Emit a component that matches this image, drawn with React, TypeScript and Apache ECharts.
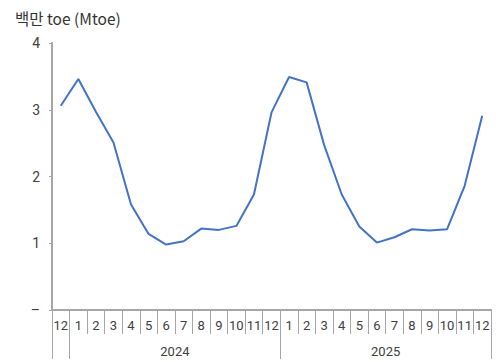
import React, { useEffect, useRef } from "react";
import * as echarts from "echarts";

const months = ["12", "1", "2", "3", "4", "5", "6", "7", "8", "9", "10", "11", "12", "1", "2", "3", "4", "5", "6", "7", "8", "9", "10", "11", "12"];
const values = [3.06, 3.46, 2.97, 2.51, 1.58, 1.14, 0.98, 1.03, 1.22, 1.2, 1.26, 1.73, 2.96, 3.49, 3.41, 2.47, 1.73, 1.25, 1.01, 1.09, 1.21, 1.19, 1.21, 1.86, 2.91];
const years = ["2024", "2025"];
const yearStartIndex = [1, 13];
const yearEndIndex = [13, 25];
const yTicks = [0, 1, 2, 3, 4];
const unitTitle = "백만 toe (Mtoe)";

const FONT = "Roboto, 'Noto Sans CJK KR', sans-serif";
const GRAY = "#a6a6a6";
const TEXT = "#404040";

export default function App() {
  const ref = useRef<HTMLDivElement>(null);
  useEffect(() => {
    if (!ref.current) return;
    const chart = echarts.init(ref.current, undefined, { renderer: "svg" });
    const boundaries = Array.from(new Set([0, ...yearStartIndex, ...yearEndIndex])).sort((a, b) => a - b);
    const yearCenters = yearStartIndex.map((s, i) => (s + yearEndIndex[i]) / 2);
    chart.setOption({
      animation: false,
      textStyle: { fontFamily: FONT },
      title: {
        text: unitTitle,
        left: 10,
        top: 5,
        textStyle: { fontSize: 15.5, fontWeight: "normal", color: "#333", fontFamily: "'Noto Sans CJK KR', Roboto, sans-serif" },
      },
      grid: { left: 52, right: 5, top: 43, bottom: 52, containLabel: false },
      xAxis: [
        {
          type: "category",
          data: months,
          boundaryGap: true,
          axisLine: { show: true, lineStyle: { color: GRAY, width: 2 } },
          axisTick: { show: true, interval: 0, length: 24, lineStyle: { color: GRAY, width: 1 } },
          axisLabel: { interval: 0, color: TEXT, fontSize: 13, margin: 9, fontFamily: FONT },
          splitLine: { show: false },
        },
        {
          type: "value",
          min: 0,
          max: months.length,
          position: "bottom",
          axisLine: { show: false },
          axisTick: { show: true, customValues: boundaries, length: 49, lineStyle: { color: GRAY, width: 1 } },
          axisLabel: {
            show: true,
            customValues: yearCenters,
            formatter: (v: number) => {
              const i = yearCenters.indexOf(v);
              return i >= 0 ? years[i] : "";
            },
            color: TEXT,
            fontSize: 13,
            margin: 35,
            fontFamily: FONT,
          },
          splitLine: { show: false },
        },
      ],
      yAxis: {
        type: "value",
        min: 0,
        max: 4,
        interval: 1,
        axisLine: { show: true, lineStyle: { color: GRAY, width: 2 } },
        axisTick: { show: true, length: 3, lineStyle: { color: GRAY } },
        axisLabel: {
          color: TEXT,
          fontSize: 14,
          margin: 12,
          fontFamily: FONT,
          formatter: (v: number) => (v === yTicks[0] ? "–" : String(v)),
        },
        splitLine: { show: false },
      },
      series: [
        {
          type: "line",
          data: values,
          xAxisIndex: 0,
          symbol: "none",
          lineStyle: { color: "#4472c4", width: 2 },
        },
      ],
    });
    return () => chart.dispose();
  }, []);
  return <div ref={ref} style={{ width: 496, height: 362, position: "absolute", left: 0, top: 0 }} />;
}
